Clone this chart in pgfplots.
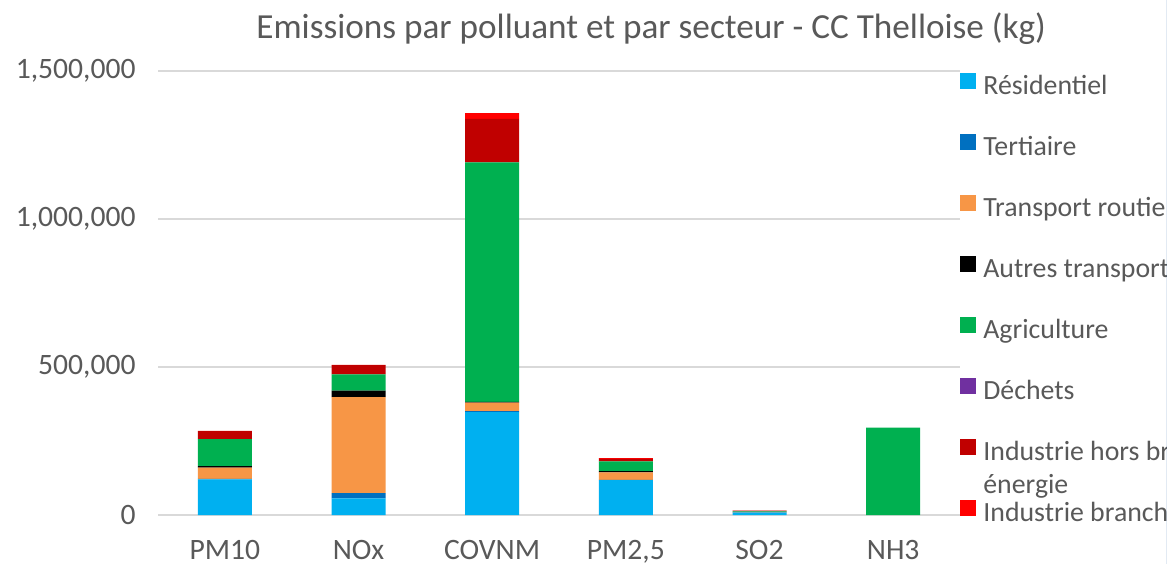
\documentclass[border=0pt]{standalone}
\usepackage{fontspec}
\setmainfont{Carlito}
\usepackage{pgfplots}
\pgfplotsset{compat=1.18}
\definecolor{txt}{HTML}{595959}
\definecolor{gridc}{HTML}{D9D9D9}
\definecolor{cRes}{HTML}{00B0F0}
\definecolor{cTer}{HTML}{0070C0}
\definecolor{cTra}{HTML}{F79646}
\definecolor{cAut}{HTML}{000000}
\definecolor{cAgr}{HTML}{00B050}
\definecolor{cDec}{HTML}{7030A0}
\definecolor{cInd}{HTML}{C00000}
\definecolor{cEne}{HTML}{FF0000}
\definecolor{edge}{HTML}{1E5AA0}
\begin{document}
\begin{tikzpicture}[x=1pt,y=1pt]
\path[use as bounding box] (0,0) rectangle (585,282);
\fill[white] (0,0) rectangle (585,282);
\clip (0,0) rectangle (583,282);
\begin{axis}[
  at={(79pt,24.5pt)}, anchor=south west,
  scale only axis, width=401pt, height=222pt,
  xmin=-0.5, xmax=5.5, ymin=0, ymax=1500000,
  ybar stacked, bar width=27pt,
  xtick={0,1,2,3,4,5},
  xticklabels={PM10,NOx,COVNM,{PM2,5},SO2,NH3},
  ytick={0,500000,1000000,1500000},
  scaled y ticks=false,
  /pgf/number format/.cd, fixed, 1000 sep={,}, assume math mode=true, /pgfplots/.cd,
  ymajorgrids, grid style={gridc, line width=0.75pt},
  axis line style={draw=none},
  major tick length=0pt,
  tick label style={font=\fontsize{14.8}{17}\selectfont, color=txt},
  xticklabel style={anchor=base, inner sep=0pt, yshift=-22pt},
  yticklabel style={anchor=east, inner sep=0pt, xshift=-11pt},
  title={Emissions par polluant et par secteur - CC Thelloise (kg)},
  title style={at={(0.615,1)}, anchor=base, yshift=10.5pt, inner sep=0pt,
    font=\fontsize{17.6}{21}\selectfont, color=txt},
  legend cell align=left,
  legend image code/.code={\path[#1, draw=none] (0pt,-0.5pt) rectangle (8pt,7.5pt);},
  legend style={at={(1,1)}, anchor=north west, yshift=-0.7pt, draw=none, fill=none,
    inner sep=0pt, row sep=16.5pt, column sep=3.5pt,
    font=\fontsize{13.9}{17}\selectfont, text=txt,
    nodes={inner sep=0pt, text height=10pt, text depth=3pt}},
]
\addplot[fill=cRes, draw=none] coordinates {(0,120000) (1,56000) (2,348000) (3,118000) (4,8000) (5,0)};
\addplot[fill=cTer, draw=none] coordinates {(0,2000) (1,18000) (2,3000) (3,1000) (4,1000) (5,0)};
\addplot[fill=cTra, draw=none] coordinates {(0,38000) (1,324000) (2,29000) (3,25000) (4,500) (5,0)};
\addplot[fill=cAut, draw=none] coordinates {(0,5000) (1,22000) (2,2000) (3,4000) (4,0) (5,0)};
\addplot[fill=cAgr, draw=none] coordinates {(0,91000) (1,55000) (2,809000) (3,33000) (4,2500) (5,295000)};
\addplot[fill=cDec, draw=none] coordinates {(0,0) (1,0) (2,0) (3,0) (4,0) (5,0)};
\addplot[fill=cInd, draw=none] coordinates {(0,27000) (1,31000) (2,147000) (3,9000) (4,2500) (5,0)};
\addplot[fill=cEne, draw=none] coordinates {(0,1000) (1,1000) (2,20000) (3,2000) (4,500) (5,0)};
\legend{R\'esidentiel,Tertiaire,Transport routier,Autres transports,Agriculture,D\'echets,
  {\parbox[t]{6cm}{Industrie hors branche\\[-0.5pt]\'energie}},Industrie branche \'energie}
\end{axis}
\fill[edge] (583,0) rectangle (585,282);
\end{tikzpicture}
\end{document}
